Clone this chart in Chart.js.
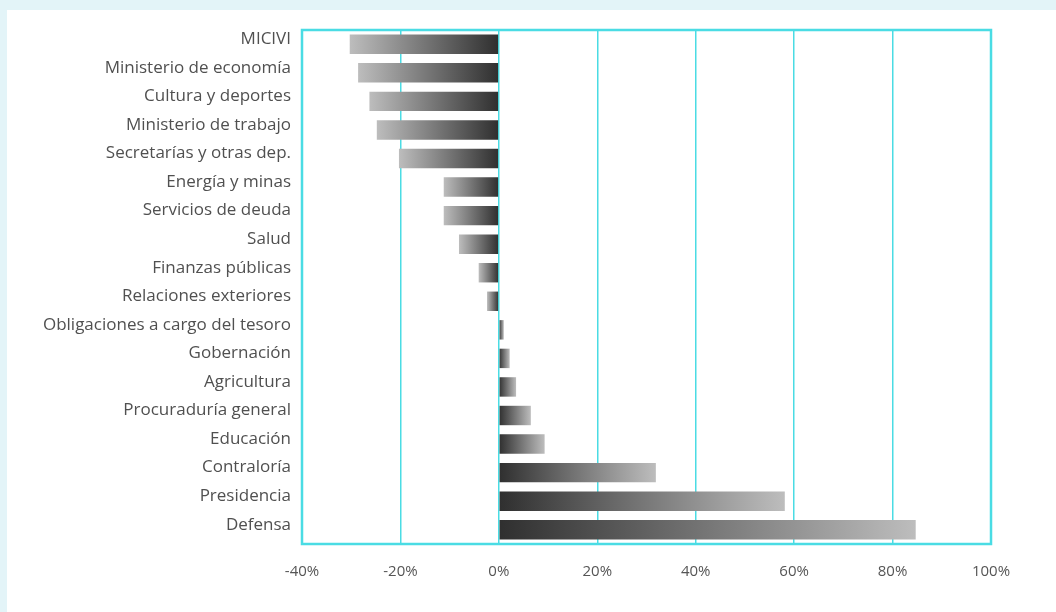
<!DOCTYPE html>
<html>
<head>
<meta charset="utf-8">
<script src="https://cdn.jsdelivr.net/npm/chart.js@4"></script>
<style>
  html, body { margin: 0; padding: 0; }
  body { width: 1056px; height: 612px; background: #e3f4f8; position: relative; overflow: hidden; }
  #panel { position: absolute; left: 7px; top: 10px; right: 0; bottom: 0; background: #ffffff; }
  #wrap { position: absolute; left: 0; top: 0; width: 1056px; height: 612px; }
</style>
</head>
<body>
<div id="panel"></div>
<div id="wrap"><canvas id="chart"></canvas></div>
<script>
// Categories, top to bottom
const categories = [
  'MICIVI', 'Ministerio de economía', 'Cultura y deportes', 'Ministerio de trabajo',
  'Secretarías y otras dep.', 'Energía y minas', 'Servicios de deuda', 'Salud',
  'Finanzas públicas', 'Relaciones exteriores', 'Obligaciones a cargo del tesoro',
  'Gobernación', 'Agricultura', 'Procuraduría general', 'Educación',
  'Contraloría', 'Presidencia', 'Defensa'
];
// Variation in percent
const values = [-30.3, -28.6, -26.3, -24.8, -20.3, -11.2, -11.2, -8.1, -4.1, -2.4,
  1.0, 2.2, 3.5, 6.5, 9.3, 31.9, 58.1, 84.7];
// Axis range and tick step
const xMin = -40;
const xMax = 100;
const xStep = 20;

const cyan = '#4adce4';

// each bar is dark at zero and fades toward its tip
function barGradient(ctx) {
  const chart = ctx.chart;
  const xs = chart.scales.x;
  if (!xs || !chart.chartArea) return '#777777';
  const x0 = xs.getPixelForValue(0);
  const x1 = xs.getPixelForValue(ctx.raw);
  if (Math.abs(x1 - x0) < 1) return '#333333';
  const g = chart.ctx.createLinearGradient(x0, 0, x1, 0);
  g.addColorStop(0, '#2f2f2f');
  g.addColorStop(1, '#bdbdbd');
  return g;
}

// cyan frame round the plot area
const frame = {
  id: 'frame',
  afterDatasetsDraw(chart) {
    const { ctx, chartArea: a } = chart;
    ctx.save();
    ctx.strokeStyle = cyan;
    ctx.lineWidth = 2.5;
    ctx.strokeRect(a.left, a.top, a.right - a.left, a.bottom - a.top);
    ctx.restore();
  }
};

new Chart(document.getElementById('chart').getContext('2d'), {
  type: 'bar',
  data: {
    labels: categories,
    datasets: [{
      data: values,
      backgroundColor: barGradient,
      borderWidth: 0,
      barPercentage: 0.68,
      categoryPercentage: 1
    }]
  },
  options: {
    indexAxis: 'y',
    responsive: true,
    maintainAspectRatio: false,
    animation: false,
    layout: { padding: { top: 30, right: 65, left: 0, bottom: 0 } },
    plugins: {
      legend: { display: false },
      tooltip: { enabled: false }
    },
    scales: {
      x: {
        min: xMin,
        max: xMax,
        afterFit(scale) { scale.height = 68; },
        ticks: {
          stepSize: xStep,
          padding: 19,
          color: '#555555',
          font: { family: 'Open Sans', size: 15 },
          callback: (v) => v + '%'
        },
        grid: { color: cyan, lineWidth: 1.5, drawTicks: false },
        border: { display: false }
      },
      y: {
        afterFit(scale) { scale.width = 302; },
        ticks: {
          padding: 11,
          labelOffset: -5,
          color: '#505050',
          font: { family: 'Open Sans', size: 17 }
        },
        grid: { display: false, drawTicks: false },
        border: { display: false }
      }
    }
  },
  plugins: [frame]
});
</script>
</body>
</html>
